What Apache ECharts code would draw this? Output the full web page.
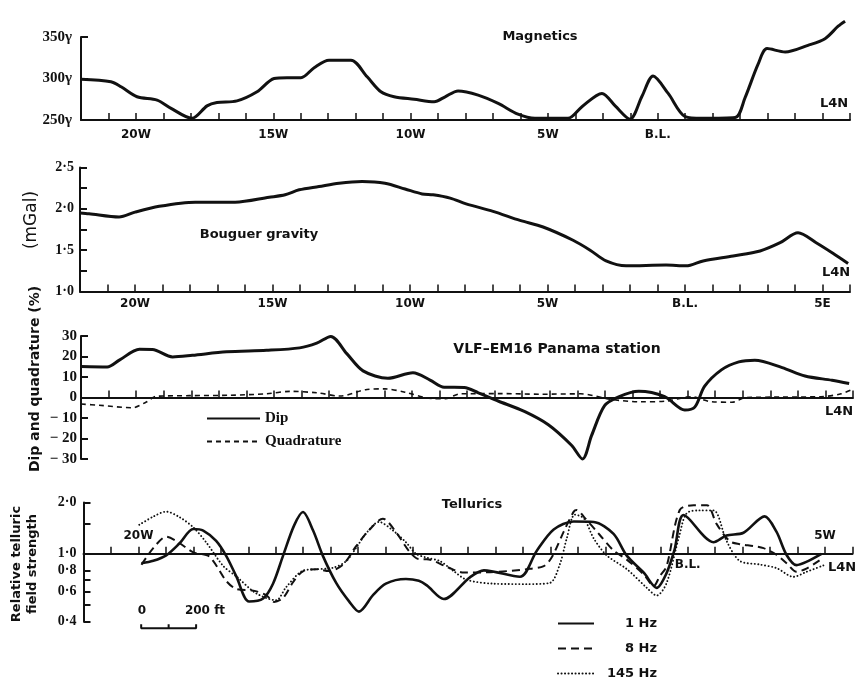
<!DOCTYPE html>
<html>
<head>
<meta charset="utf-8">
<script src="https://cdn.jsdelivr.net/npm/echarts@6/dist/echarts.min.js"></script>
<style>html,body{margin:0;padding:0;background:#fff}#chart{width:862px;height:677px}</style>
</head>
<body>
<div id="chart"></div>
<script>
// x in station units along the line: 0 = left end, one tick per station, 28 = L4N end
var magX = [0, 1.09, 1.46, 2.04, 2.77, 3.28, 4.04, 4.59, 4.95, 5.68, 6.41, 7.03, 7.5, 8.01, 8.49, 9.03, 9.83, 10.42, 10.92, 11.4, 12.13, 12.86, 13.26, 13.73, 14.46, 15.19, 15.91, 16.53, 17.73, 18.24, 18.97, 19.45, 19.99, 20.43, 20.83, 21.38, 22.0, 22.61, 23.82, 24.18, 24.65, 24.98, 25.64, 26.47, 27.09, 27.57, 27.82];
var magV = [299, 296, 290, 278, 274, 264, 252, 267, 271, 273, 284, 300, 301, 301, 313, 322, 322, 302, 284, 278, 275, 272, 278, 285, 280, 270, 257, 252, 252, 266, 282, 267, 251, 279, 303, 282, 254, 252, 253, 277, 317, 336, 332, 340, 348, 363, 369];

var gravX = [0, 0.33, 1.42, 2.0, 2.88, 4.19, 5.64, 6.88, 7.46, 7.97, 8.69, 9.42, 10.26, 11.09, 11.82, 12.44, 12.84, 13.46, 14.04, 15.02, 16.0, 16.84, 17.93, 18.55, 19.13, 19.86, 21.31, 22.04, 22.66, 23.75, 24.73, 25.46, 26.11, 26.77, 27.39, 27.93];
var gravV = [1.95, 1.94, 1.90, 1.96, 2.03, 2.08, 2.08, 2.14, 2.17, 2.23, 2.27, 2.31, 2.33, 2.31, 2.24, 2.18, 2.17, 2.13, 2.06, 1.97, 1.86, 1.78, 1.62, 1.50, 1.37, 1.31, 1.32, 1.31, 1.37, 1.43, 1.49, 1.59, 1.71, 1.59, 1.46, 1.34];

var dipX = [0, 0.95, 1.39, 2.12, 2.59, 3.32, 4.04, 5.28, 6.73, 7.93, 8.55, 9.06, 9.64, 10.23, 11.13, 12.04, 12.66, 13.17, 13.9, 14.41, 15.13, 16.08, 16.95, 17.79, 18.19, 18.52, 18.99, 19.5, 20.23, 21.17, 21.9, 22.26, 22.62, 23.24, 23.86, 24.44, 25.43, 26.26, 27.24, 27.86];
var dipV = [15.1, 14.9, 18.2, 23.5, 23.4, 19.8, 20.6, 22.3, 23, 24.2, 26.5, 29.8, 21.4, 13, 9.4, 12.1, 8.5, 5.0, 4.9, 2.3, -1.7, -6.8, -13.3, -23.3, -30, -18.5, -4, 0.3, 3, 0.4, -6.1, -4.7, 5.5, 13.6, 17.4, 18.2, 14.6, 10.5, 8.4, 6.8];
var quadX = [0, 0.66, 1.86, 2.37, 2.73, 3.93, 5.39, 6.73, 7.57, 8.55, 9.39, 10.37, 11.03, 11.75, 12.7, 13.21, 13.75, 15.21, 16.66, 18.12, 19.21, 20.3, 21.21, 22.12, 22.88, 23.61, 24.12, 25.39, 26.84, 27.57, 28];
var quadV = [-3.2, -3.8, -5.0, -2.2, 0.6, 0.9, 1.1, 1.8, 3.0, 2.3, 0.7, 3.9, 4.2, 2.6, -0.5, -0.6, 1.8, 1.9, 1.6, 1.8, -0.9, -2.1, -1.8, 0.4, -2.1, -2.3, 0, 0.2, 0.4, 1.8, 4.1];

var tel1X = [2.11, 2.54, 3.01, 3.49, 4.0, 4.36, 4.83, 5.2, 5.56, 6.03, 6.54, 6.9, 7.27, 7.67, 7.99, 8.36, 8.72, 9.2, 9.67, 10.03, 10.54, 11.01, 11.74, 12.21, 12.5, 13.12, 14.07, 14.58, 15.89, 16.5, 17.12, 17.85, 18.58, 19.3, 19.78, 20.4, 20.87, 21.23, 21.52, 21.85, 22.94, 23.41, 24.03, 24.8, 25.23, 25.6, 25.96, 26.32, 26.87];
var tel1V = [0.88, 0.91, 0.98, 1.15, 1.40, 1.37, 1.19, 0.97, 0.74, 0.525, 0.547, 0.668, 0.98, 1.47, 1.76, 1.37, 0.97, 0.675, 0.526, 0.458, 0.572, 0.668, 0.711, 0.694, 0.653, 0.543, 0.728, 0.80, 0.733, 1.04, 1.39, 1.55, 1.54, 1.31, 0.976, 0.775, 0.631, 0.771, 1.056, 1.69, 1.17, 1.28, 1.33, 1.66, 1.35, 0.985, 0.859, 0.897, 1.0];
var tel8X = [2.11, 2.54, 3.01, 3.45, 4.0, 4.58, 5.2, 5.56, 6.18, 6.65, 6.94, 7.27, 7.63, 7.99, 8.47, 8.94, 9.45, 9.92, 10.4, 10.9, 11.38, 11.85, 12.21, 12.5, 13.23, 13.85, 14.94, 16.14, 16.76, 17.05, 17.49, 17.85, 17.96, 18.22, 18.8, 19.3, 19.78, 20.4, 20.76, 20.98, 21.23, 21.71, 22.22, 22.7, 23.05, 23.52, 23.89, 24.4, 24.76, 25.23, 25.6, 25.96, 26.32, 26.8];
var tel8V = [0.863, 1.08, 1.26, 1.17, 1.02, 0.964, 0.692, 0.622, 0.608, 0.573, 0.522, 0.552, 0.682, 0.79, 0.812, 0.792, 0.864, 1.105, 1.38, 1.61, 1.34, 1.04, 0.931, 0.93, 0.839, 0.776, 0.782, 0.813, 0.848, 0.955, 1.355, 1.77, 1.81, 1.65, 1.29, 1.047, 0.925, 0.757, 0.646, 0.738, 0.845, 1.81, 1.93, 1.93, 1.50, 1.19, 1.14, 1.11, 1.08, 0.988, 0.881, 0.785, 0.82, 0.915];
var tel145X = [2.03, 2.54, 3.01, 3.49, 4.0, 4.47, 5.09, 5.56, 6.29, 7.01, 7.38, 7.99, 8.47, 9.09, 9.56, 9.92, 10.29, 10.76, 11.27, 11.74, 12.11, 12.5, 12.98, 13.49, 13.96, 14.94, 16.14, 16.98, 17.34, 17.6, 17.89, 18.22, 18.58, 19.05, 19.78, 20.51, 20.87, 21.23, 21.7, 21.96, 22.43, 22.94, 23.41, 23.89, 24.61, 25.23, 25.85, 26.32, 26.94];
var tel145V = [1.48, 1.655, 1.77, 1.645, 1.43, 1.167, 0.848, 0.738, 0.586, 0.534, 0.638, 0.797, 0.812, 0.829, 0.904, 1.08, 1.32, 1.54, 1.37, 1.17, 1.0, 0.95, 0.906, 0.789, 0.703, 0.668, 0.664, 0.675, 0.864, 1.24, 1.70, 1.615, 1.23, 0.98, 0.814, 0.632, 0.569, 0.673, 1.29, 1.73, 1.80, 1.80, 1.196, 0.91, 0.866, 0.825, 0.733, 0.783, 0.855];

// station labels
var magLabelAt = [2, 7, 12, 17, 21], magLabelText = ['20W', '15W', '10W', '5W', 'B.L.'];
var gravLabelAt = [2, 7, 12, 17, 22, 27], gravLabelText = ['20W', '15W', '10W', '5W', 'B.L.', '5E'];
var tellTopAt = [2, 27], tellTopText = ['20W', '5W'];
var tellBelowAt = [22], tellBelowText = ['B.L.'];

// y ticks
var magTicks = [250, 300, 350];
var gravTicks = [1, 1.25, 1.5, 1.75, 2, 2.25, 2.5], gravTickLabels = [1, 1.5, 2, 2.5];
var vlfTicks = [-30, -20, -10, 0, 10, 20, 30];
var tellMin = 0.4, tellMax = 2, tellBase = 1;
var tellTicks = [0.4, 0.5, 0.6, 0.7, 0.8, 1, 1.5, 2], tellTickLabels = [0.4, 0.6, 0.8, 1, 2];

// 0 - 100 - 200 ft scale bar (stations)
var scaleBarX = [2.1, 3.1, 4.1];
var scaleBarY = [0.366, 0.386];

var INK = '#111';

function lg(v) { return Math.log10(v); }
function pairs(xs, ys, f) {
    return xs.map(function (x, i) { return [x, f ? f(ys[i]) : ys[i]]; });
}
function dot(v) { return v.toFixed(1).replace('.', '\u00b7'); }
function pick(at, text) {
    return function (v) {
        var i = at.indexOf(Math.round(v));
        return i < 0 ? '' : text[i];
    };
}

function stationAxis(grid, labelAt, labelText, margin, extra) {
    var a = {
        type: 'value', gridIndex: grid, min: 0, max: 28, interval: 1,
        splitLine: { show: false },
        axisLine: { show: true, onZero: true, lineStyle: { color: INK, width: 2 } },
        axisTick: { show: true, inside: true, length: 7, lineStyle: { color: INK, width: 1.5 } },
        axisLabel: { show: false }
    };
    if (labelAt) {
        a.axisLabel = {
            show: true, customValues: labelAt, formatter: pick(labelAt, labelText), margin: margin,
            fontFamily: 'DejaVu Sans', fontWeight: 'bold', fontSize: 12, color: INK
        };
    }
    if (extra) for (var k in extra) {
        if (k === 'labelInside') a.axisLabel.inside = extra[k];
        else a[k] = extra[k];
    }
    return a;
}

function leftAxis(grid, min, max, ticks, labels, fmt, margin, size) {
    return {
        type: 'value', gridIndex: grid, min: min, max: max,
        splitLine: { show: false },
        axisLine: { show: true, onZero: false, lineStyle: { color: INK, width: 2 } },
        axisTick: { show: true, inside: true, length: 7, customValues: ticks, lineStyle: { color: INK, width: 2 } },
        axisLabel: {
            customValues: labels, formatter: fmt, margin: margin,
            fontFamily: 'Liberation Serif', fontWeight: 'bold', fontSize: size || 14, color: INK
        }
    };
}

function curve(name, xi, yi, data, width, dash, cap) {
    return {
        name: name, type: 'line', xAxisIndex: xi, yAxisIndex: yi, data: data,
        smooth: 0.3, symbol: 'none', clip: false, silent: true,
        lineStyle: { color: INK, width: width, type: dash || 'solid', cap: cap || 'butt', join: 'round' }
    };
}

var scaleData = [
    [scaleBarX[0], lg(scaleBarY[1])], [scaleBarX[0], lg(scaleBarY[0])],
    [scaleBarX[1], lg(scaleBarY[0])], [scaleBarX[1], lg(scaleBarY[1])],
    [scaleBarX[1], lg(scaleBarY[0])], [scaleBarX[2], lg(scaleBarY[0])],
    [scaleBarX[2], lg(scaleBarY[1])]
];

function note(text, x, y, size, weight, family, rot, lh) {
    return {
        type: 'text', x: x, y: y, rotation: rot || 0, silent: true,
        style: {
            text: text, fill: INK, fontSize: size || 13, fontWeight: weight || 'bold',
            fontFamily: family || 'DejaVu Sans', lineHeight: lh || undefined,
            align: 'center', verticalAlign: 'middle', textAlign: 'center', textVerticalAlign: 'middle'
        }
    };
}

// tellurics panel; the station line sits on the 1.0 level of its log scale
var tg = { left: 83.5, top: 502.6, width: 769, height: 119 };
var tellLineY = tg.height * (lg(tellMax) - lg(tellBase)) / (lg(tellMax) - lg(tellMin));

var chart = echarts.init(document.getElementById('chart'));
chart.setOption({
    backgroundColor: '#fff',
    animation: false,
    grid: [
        { left: 81, top: 37, width: 769, height: 83, outerBoundsMode: 'none' },
        { left: 80, top: 167.5, width: 770, height: 124, outerBoundsMode: 'none' },
        { left: 81, top: 336, width: 772, height: 123, outerBoundsMode: 'none' },
        { left: tg.left, top: tg.top, width: tg.width, height: tg.height, outerBoundsMode: 'none' },
        { left: tg.left, top: tg.top, width: tg.width, height: tellLineY, outerBoundsMode: 'none' },
        { left: tg.left, top: tg.top + tellLineY, width: tg.width, height: tg.height - tellLineY, outerBoundsMode: 'none' }
    ],
    xAxis: [
        stationAxis(0, magLabelAt, magLabelText, 9),
        stationAxis(1, gravLabelAt, gravLabelText, 6),
        stationAxis(2),
        stationAxis(3, null, null, 0, { show: false }),
        stationAxis(4, tellTopAt, tellTopText, 12, { labelInside: true }),
        stationAxis(5, tellBelowAt, tellBelowText, 5, {
            position: 'top', labelInside: true,
            axisLine: { show: false }, axisTick: { show: false }
        })
    ],
    yAxis: [
        leftAxis(0, 250, 350, magTicks, magTicks, function (v) { return v + '\u03b3'; }, 9, 15),
        leftAxis(1, 1, 2.5, gravTicks, gravTickLabels, dot, 6),
        leftAxis(2, -30, 30, vlfTicks, vlfTicks, function (v) { return v < 0 ? '\u2212 ' + (-v) : String(v); }, 4, 15),
        leftAxis(3, lg(tellMin), lg(tellMax), tellTicks.map(lg), tellTickLabels.map(lg), function (v) { return dot(Math.pow(10, v)); }, 7),
        { type: 'value', gridIndex: 4, show: false, min: 0, max: 1 },
        { type: 'value', gridIndex: 5, show: false, min: 0, max: 1 }
    ],
    legend: [
        {
            data: ['Dip', 'Quadrature'], orient: 'vertical', left: 206, top: 411, padding: 0,
            itemWidth: 53, itemHeight: 14, itemGap: 8, selectedMode: false,
            itemStyle: { opacity: 0 },
            textStyle: { fontFamily: 'Liberation Serif', fontWeight: 'bold', fontSize: 15, color: INK }
        },
        {
            data: ['1 Hz', '8 Hz', '145 Hz'], orient: 'vertical', left: 557, top: 617, height: 90, padding: 0,
            itemWidth: 36, itemHeight: 14, itemGap: 12, selectedMode: false,
            itemStyle: { opacity: 0 },
            formatter: function (n) { return '{a|' + n + '}'; },
            textStyle: {
                color: INK,
                rich: { a: { width: 58, align: 'right', fontFamily: 'DejaVu Sans', fontWeight: 'bold', fontSize: 13, color: INK } }
            }
        }
    ],
    series: [
        curve('Magnetics', 0, 0, pairs(magX, magV), 3),
        curve('Bouguer gravity', 1, 1, pairs(gravX, gravV), 3),
        curve('Dip', 2, 2, pairs(dipX, dipV), 3),
        curve('Quadrature', 2, 2, pairs(quadX, quadV), 1.6, [5, 4]),
        curve('1 Hz', 3, 3, pairs(tel1X, tel1V, lg), 2.6),
        curve('8 Hz', 3, 3, pairs(tel8X, tel8V, lg), 2, [8, 5]),
        curve('145 Hz', 3, 3, pairs(tel145X, tel145V, lg), 1.9, [0.1, 3.4], 'round'),
        {
            name: 'scale', type: 'line', xAxisIndex: 3, yAxisIndex: 3, data: scaleData,
            symbol: 'none', clip: false, silent: true, lineStyle: { color: INK, width: 2 }
        }
    ],
    graphic: [
        note('Magnetics', 540, 37),
        note('L4N', 834, 104),
        note('Bouguer gravity', 259, 235),
        note('L4N', 836, 273),
        note('VLF\u2013EM16 Panama station', 557, 349, 14),
        note('L4N', 839, 412),
        note('Tellurics', 472, 505),
        note('L4N', 842, 568),
        note('0', 142, 611, 12),
        note('200 ft', 205, 611, 12),
        note('(mGal)', 32, 220, 17, 'normal', 'DejaVu Sans', Math.PI / 2),
        note('Dip and quadrature (%)', 35, 379, 14, 'bold', 'DejaVu Sans', Math.PI / 2),
        note('Relative telluric\nfield strength', 25, 564, 13, 'bold', 'DejaVu Sans', Math.PI / 2, 16)
    ]
});
</script>
</body>
</html>
